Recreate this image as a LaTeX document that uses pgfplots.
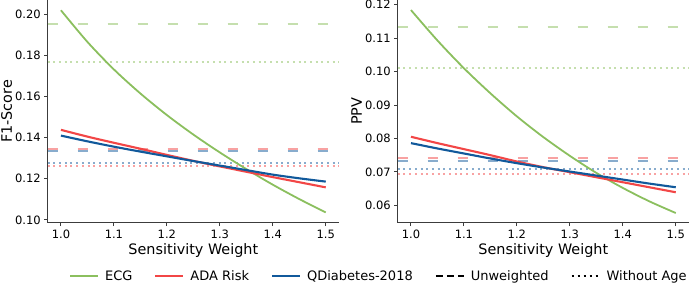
\documentclass[border=0pt]{standalone}
\usepackage{fontspec}
\setmainfont{DejaVu Sans}
\usepackage{pgfplots}
\pgfplotsset{compat=1.18}
\definecolor{cecg}{RGB}{139,191,94}
\definecolor{cada}{RGB}{242,70,70}
\definecolor{cqd}{RGB}{17,89,155}
\definecolor{spine}{RGB}{60,60,60}
\pgfplotsset{
  myax/.style={
    scale only axis, width=291.3pt, height=222.7pt,
    axis x line*=bottom, axis y line*=left,
    x axis line style={-, line width=1.25pt, spine},
    y axis line style={-, line width=1.25pt, spine},
    tick align=outside, tick style={line width=0.9pt, spine},
    major tick length=3.5pt,
    xmin=0.975, xmax=1.525,
    xtick={1.0,1.1,1.2,1.3,1.4,1.5},
    /pgf/number format/assume math mode=true,
    xticklabel style={font=\fontsize{11.5}{13}\selectfont, /pgf/number format/fixed, /pgf/number format/fixed zerofill, /pgf/number format/precision=1},
    yticklabel style={font=\fontsize{11.5}{13}\selectfont, /pgf/number format/fixed, /pgf/number format/fixed zerofill, /pgf/number format/precision=2},
    scaled y ticks=false,
    xlabel={Sensitivity Weight},
    every axis x label/.style={at={(axis description cs:0.5,-0.123)}, anchor=center, font=\fontsize{14.4}{16}\selectfont},
    every axis y label/.style={at={(axis description cs:-0.141,0.5)}, rotate=90, anchor=center, font=\fontsize{14.4}{16}\selectfont},
    ecg/.style={color=cecg, line width=1.8pt},
    ada/.style={color=cada, line width=2.1pt},
    qd/.style={color=cqd, line width=2.1pt},
    unw/.style={line width=2pt, opacity=0.5, dash pattern=on 10pt off 20pt},
    woa/.style={line width=2pt, opacity=0.5, dash pattern=on 2pt off 3.7pt},
  }
}
\pgfplotstableread{
x ecg ada qd
1.00 0.2020 0.1438 0.1410
1.05 0.1866 0.1405 0.1382
1.10 0.1732 0.1375 0.1356
1.15 0.1615 0.1346 0.1332
1.20 0.1510 0.1316 0.1309
1.25 0.1415 0.1287 0.1286
1.30 0.1328 0.1260 0.1264
1.35 0.1247 0.1234 0.1242
1.40 0.1171 0.1208 0.1220
1.45 0.1101 0.1183 0.1202
1.50 0.1036 0.1158 0.1186
}\fone
\pgfplotstableread{
x ecg ada qd
1.00 0.1184 0.0805 0.0786
1.05 0.1093 0.0786 0.0770
1.10 0.1010 0.0768 0.0755
1.15 0.0935 0.0750 0.0740
1.20 0.0866 0.0731 0.0726
1.25 0.0804 0.0714 0.0713
1.30 0.0748 0.0699 0.0701
1.35 0.0697 0.0684 0.0689
1.40 0.0652 0.0669 0.0677
1.45 0.0612 0.0654 0.0665
1.50 0.0577 0.0639 0.0654
}\ppv
\begin{document}
\begin{tikzpicture}
\useasboundingbox (0,0) rectangle (698pt,292pt);
\begin{axis}[myax, at={(47.7pt,69.3pt)}, anchor=south west,
  ymin=0.0986, ymax=0.2070, ytick={0.10,0.12,0.14,0.16,0.18,0.20},
  ylabel={F1-Score},
  legend columns=5,
  legend style={at={(axis description cs:1.137,-0.239)}, anchor=center, draw=none, fill=none,
    font=\fontsize{13}{15}\selectfont,
    /tikz/every even column/.append style={column sep=20pt},
    /tikz/every odd column/.append style={column sep=4pt}},
  legend image code/.code={\draw[#1] (0pt,0pt) -- (28pt,0pt);},
]
\addplot[unw, cecg, forget plot] coordinates {(0.975,0.1953) (1.525,0.1953)};
\addplot[unw, cada, forget plot] coordinates {(0.975,0.1343) (1.525,0.1343)};
\addplot[unw, cqd, forget plot] coordinates {(0.975,0.1333) (1.525,0.1333)};
\addplot[woa, cecg, forget plot] coordinates {(0.975,0.1767) (1.525,0.1767)};
\addplot[woa, cqd, forget plot] coordinates {(0.975,0.1279) (1.525,0.1279)};
\addplot[woa, cada, forget plot] coordinates {(0.975,0.1262) (1.525,0.1262)};
\addplot[ecg, smooth, forget plot] table[x=x, y=ecg] {\fone};
\addplot[ada, smooth, forget plot] table[x=x, y=ada] {\fone};
\addplot[qd, smooth, forget plot] table[x=x, y=qd] {\fone};
\addlegendimage{color=cecg, line width=2pt}
\addlegendentry{ECG}
\addlegendimage{color=cada, line width=2pt}
\addlegendentry{ADA Risk}
\addlegendimage{color=cqd, line width=2pt}
\addlegendentry{QDiabetes-2018}
\addlegendimage{black, line width=2pt, dash pattern=on 7pt off 4pt}
\addlegendentry{Unweighted}
\addlegendimage{black, line width=2pt, dash pattern=on 2pt off 4pt}
\addlegendentry{Without Age}
\end{axis}
\begin{axis}[myax, at={(397.7pt,69.3pt)}, anchor=south west,
  ymin=0.0548, ymax=0.1214, ytick={0.06,0.07,0.08,0.09,0.10,0.11,0.12},
  ylabel={PPV},
]
\addplot[unw, cecg] coordinates {(0.975,0.1134) (1.525,0.1134)};
\addplot[unw, cada] coordinates {(0.975,0.0740) (1.525,0.0740)};
\addplot[unw, cqd] coordinates {(0.975,0.0732) (1.525,0.0732)};
\addplot[woa, cecg] coordinates {(0.975,0.1010) (1.525,0.1010)};
\addplot[woa, cqd] coordinates {(0.975,0.0709) (1.525,0.0709)};
\addplot[woa, cada] coordinates {(0.975,0.0695) (1.525,0.0695)};
\addplot[ecg, smooth] table[x=x, y=ecg] {\ppv};
\addplot[ada, smooth] table[x=x, y=ada] {\ppv};
\addplot[qd, smooth] table[x=x, y=qd] {\ppv};
\end{axis}
\end{tikzpicture}
\end{document}
